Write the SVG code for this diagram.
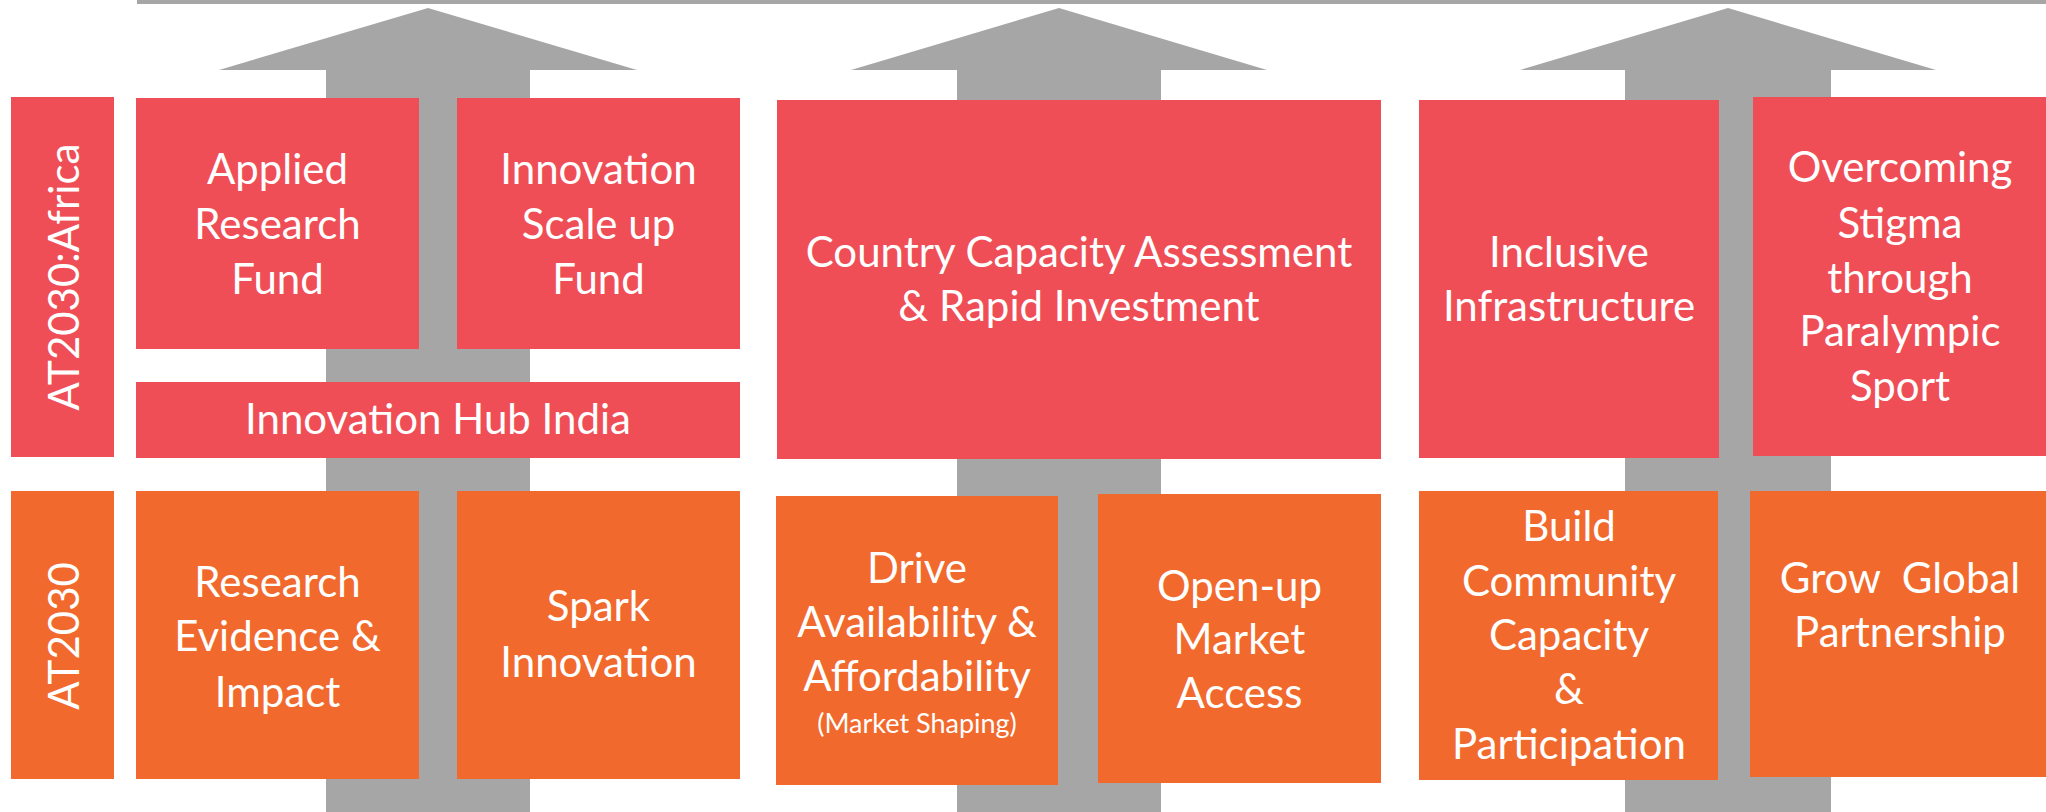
<svg xmlns="http://www.w3.org/2000/svg" width="2046" height="812" viewBox="0 0 2046 812">
<style>
.red{fill:#EF4E56}
.orange{fill:#F1692D}
.arrow{fill:#A6A6A6}
text{font-family:Lato,"Open Sans","Liberation Sans",sans-serif;fill:#FFFFFF;text-anchor:middle;font-size:42px}
.small{font-size:27px}
</style>
<rect width="2046" height="812" fill="#FFFFFF"/>
<line x1="137" y1="2" x2="2046" y2="2" stroke="#A6A6A6" stroke-width="4"/>
<g id="connectors">
<polygon class="arrow" points="428,8 637,70 530,70 530,812 326,812 326,70 219,70"/>
<polygon class="arrow" points="1059,8 1267,70 1161,70 1161,812 957,812 957,70 851,70"/>
<polygon class="arrow" points="1728,8 1936,70 1831,70 1831,812 1625,812 1625,70 1520,70"/>
</g>
<g id="label-africa">
<rect class="red" x="11" y="97" width="103" height="360"/>
<text transform="translate(79,277) rotate(-90)">AT2030:Africa</text>
</g>
<g id="label-at2030">
<rect class="orange" x="11" y="491" width="103" height="288"/>
<text transform="translate(79,636) rotate(-90)">AT2030</text>
</g>
<g id="applied-research-fund">
<rect class="red" x="136" y="98" width="283" height="251"/>
<text x="277.5" y="184">Applied</text>
<text x="277.5" y="239">Research</text>
<text x="277.5" y="294">Fund</text>
</g>
<g id="innovation-scale-up-fund">
<rect class="red" x="457" y="98" width="283" height="251"/>
<text x="598.5" y="184">Innovation</text>
<text x="598.5" y="239">Scale up</text>
<text x="598.5" y="294">Fund</text>
</g>
<g id="innovation-hub-india">
<rect class="red" x="136" y="382" width="604" height="76"/>
<text x="438" y="434">Innovation Hub India</text>
</g>
<g id="research-evidence-impact">
<rect class="orange" x="136" y="491" width="283" height="288"/>
<text x="277.5" y="597">Research</text>
<text x="277.5" y="651">Evidence &amp;</text>
<text x="277.5" y="707">Impact</text>
</g>
<g id="spark-innovation">
<rect class="orange" x="457" y="491" width="283" height="288"/>
<text x="598.5" y="621">Spark</text>
<text x="598.5" y="677">Innovation</text>
</g>
<g id="country-capacity">
<rect class="red" x="777" y="100" width="604" height="359"/>
<text x="1079" y="267">Country Capacity Assessment</text>
<text x="1079" y="321">&amp; Rapid Investment</text>
</g>
<g id="drive-availability">
<rect class="orange" x="776" y="496" width="282" height="289"/>
<text x="917" y="583">Drive</text>
<text x="917" y="637">Availability &amp;</text>
<text x="917" y="691">Affordability</text>
<text class="small" x="917" y="733">(Market Shaping)</text>
</g>
<g id="open-up-market-access">
<rect class="orange" x="1098" y="494" width="283" height="289"/>
<text x="1239.5" y="601">Open-up</text>
<text x="1239.5" y="654">Market</text>
<text x="1239.5" y="708">Access</text>
</g>
<g id="inclusive-infrastructure">
<rect class="red" x="1419" y="100" width="300" height="358"/>
<text x="1569" y="267">Inclusive</text>
<text x="1569" y="321">Infrastructure</text>
</g>
<g id="overcoming-stigma">
<rect class="red" x="1753" y="97" width="300" height="359"/>
<text x="1900" y="182">Overcoming</text>
<text x="1900" y="238">Stigma</text>
<text x="1900" y="293">through</text>
<text x="1900" y="346">Paralympic</text>
<text x="1900" y="401">Sport</text>
</g>
<g id="build-community-capacity">
<rect class="orange" x="1419" y="491" width="299" height="289"/>
<text x="1569" y="541">Build</text>
<text x="1569" y="596">Community</text>
<text x="1569" y="650">Capacity</text>
<text x="1569" y="704">&amp;</text>
<text x="1569" y="759">Participation</text>
</g>
<g id="grow-global-partnership">
<rect class="orange" x="1750" y="491" width="300" height="286"/>
<text x="1900" y="593" xml:space="preserve">Grow  Global</text>
<text x="1900" y="647">Partnership</text>
</g>
</svg>
